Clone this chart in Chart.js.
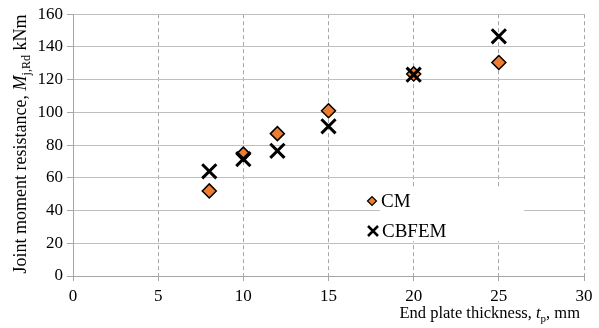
<!DOCTYPE html>
<html>
<head>
<meta charset="utf-8">
<script src="https://cdn.jsdelivr.net/npm/chart.js@4"></script>
<style>
html,body{margin:0;padding:0;background:#fff;}
#wrap{width:599px;height:328px;position:relative;}
</style>
</head>
<body>
<div id="wrap"><canvas id="c" width="599" height="328"></canvas></div>
<script>
const thickness = [8, 10, 12, 15, 20, 25];
const cmValues = [52, 74.5, 87, 101, 123.5, 130.5];
const cbfemValues = [64, 71.5, 76.5, 91.5, 123, 146.5];
const seriesNames = ['CM', 'CBFEM'];
const xTicks = [0, 5, 10, 15, 20, 25, 30];
const yTicks = [0, 20, 40, 60, 80, 100, 120, 140, 160];

const FONT = "'Liberation Serif', 'Times New Roman', serif";
const ORANGE = '#ED7D31';

function drawRich(ctx, segs, x, y, align, size, subSize) {
  let total = 0;
  const fontOf = s => (s.italic ? 'italic ' : '') + (s.sub ? subSize : size) + 'px ' + FONT;
  const widths = segs.map(s => {
    ctx.font = fontOf(s);
    const w = ctx.measureText(s.t).width;
    total += w;
    return w;
  });
  let cx = align === 'center' ? x - total / 2 : (align === 'right' ? x - total : x);
  segs.forEach((s, i) => {
    ctx.font = fontOf(s);
    ctx.fillText(s.t, cx, y + (s.sub ? 4 : 0));
    cx += widths[i];
  });
}

const decor = {
  id: 'decor',
  afterDatasetsDraw(chart) {
    const ctx = chart.ctx;
    ctx.save();
    // legend box
    ctx.fillStyle = '#fff';
    ctx.fillRect(380, 188, 144, 53);
    // CM marker
    ctx.fillStyle = ORANGE;
    ctx.strokeStyle = '#000';
    ctx.lineWidth = 1.2;
    ctx.beginPath();
    const mx = 372, my = 201, r = 4.5;
    ctx.moveTo(mx - r, my); ctx.lineTo(mx, my - r); ctx.lineTo(mx + r, my); ctx.lineTo(mx, my + r); ctx.closePath();
    ctx.fill(); ctx.stroke();
    // CBFEM marker
    ctx.lineWidth = 2.5;
    const xx = 373, xy = 231, h = 5;
    ctx.beginPath();
    ctx.moveTo(xx - h, xy - h); ctx.lineTo(xx + h, xy + h);
    ctx.moveTo(xx - h, xy + h); ctx.lineTo(xx + h, xy - h);
    ctx.stroke();
    ctx.fillStyle = '#000';
    ctx.font = '19px ' + FONT;
    ctx.textBaseline = 'alphabetic';
    ctx.textAlign = 'left';
    ctx.fillText(seriesNames[0], 381, 207);
    ctx.fillText(seriesNames[1], 382, 237);
    ctx.restore();
  },
  afterDraw(chart) {
    const ctx = chart.ctx;
    ctx.save();
    ctx.fillStyle = '#000';
    ctx.textBaseline = 'alphabetic';
    ctx.textAlign = 'left';
    drawRich(ctx, [
      {t: 'End plate thickness, '},
      {t: 't', italic: true},
      {t: 'p', sub: true},
      {t: ', mm'}
    ], 580, 318, 'right', 16.5, 11);
    ctx.translate(26, 144);
    ctx.rotate(-Math.PI / 2);
    drawRich(ctx, [
      {t: 'Joint moment resistance, '},
      {t: 'M', italic: true},
      {t: 'j,Rd', sub: true},
      {t: ' kNm'}
    ], 0, 0, 'center', 18, 12);
    ctx.restore();
  }
};

new Chart(document.getElementById('c'), {
  type: 'scatter',
  data: {
    datasets: [
      {
        label: seriesNames[0],
        data: thickness.map((x, i) => ({x: x, y: cmValues[i]})),
        pointStyle: 'rectRot',
        pointRadius: 7,
        pointHoverRadius: 7,
        backgroundColor: ORANGE,
        borderColor: '#000',
        pointBorderWidth: 1.5,
        order: 2
      },
      {
        label: seriesNames[1],
        data: thickness.map((x, i) => ({x: x, y: cbfemValues[i]})),
        pointStyle: 'crossRot',
        pointRadius: 10,
        pointHoverRadius: 10,
        borderColor: '#000',
        backgroundColor: '#000',
        pointBorderWidth: 3,
        order: 1
      }
    ]
  },
  options: {
    responsive: false,
    animation: false,
    layout: {padding: {top: 12, right: 15, left: 0, bottom: 0}},
    plugins: {legend: {display: false}, tooltip: {enabled: false}},
    scales: {
      x: {
        type: 'linear',
        min: 0, max: 30,
        afterBuildTicks(scale) { scale.ticks = xTicks.map(v => ({value: v})); },
        afterFit(scale) { scale.height = 52; },
        border: {color: '#a6a6a6', width: 1, dash: [4, 3]},
        grid: {
          color: '#a6a6a6',
          tickBorderDash: [],
          tickColor: '#a6a6a6',
          tickLength: 5,
          lineWidth: 1
        },
        ticks: {
          color: '#000',
          font: {family: FONT, size: 17},
          padding: 5,
          maxRotation: 0
        }
      },
      y: {
        min: 0, max: 160,
        afterBuildTicks(scale) { scale.ticks = yTicks.map(v => ({value: v})); },
        afterFit(scale) { scale.width = 73; },
        border: {color: '#a6a6a6', width: 1},
        grid: {
          color: '#bfbfbf',
          tickColor: '#a6a6a6',
          tickLength: 6,
          lineWidth: 1
        },
        ticks: {
          color: '#000',
          font: {family: FONT, size: 17},
          padding: 4
        }
      }
    }
  },
  plugins: [decor]
});
</script>
</body>
</html>
